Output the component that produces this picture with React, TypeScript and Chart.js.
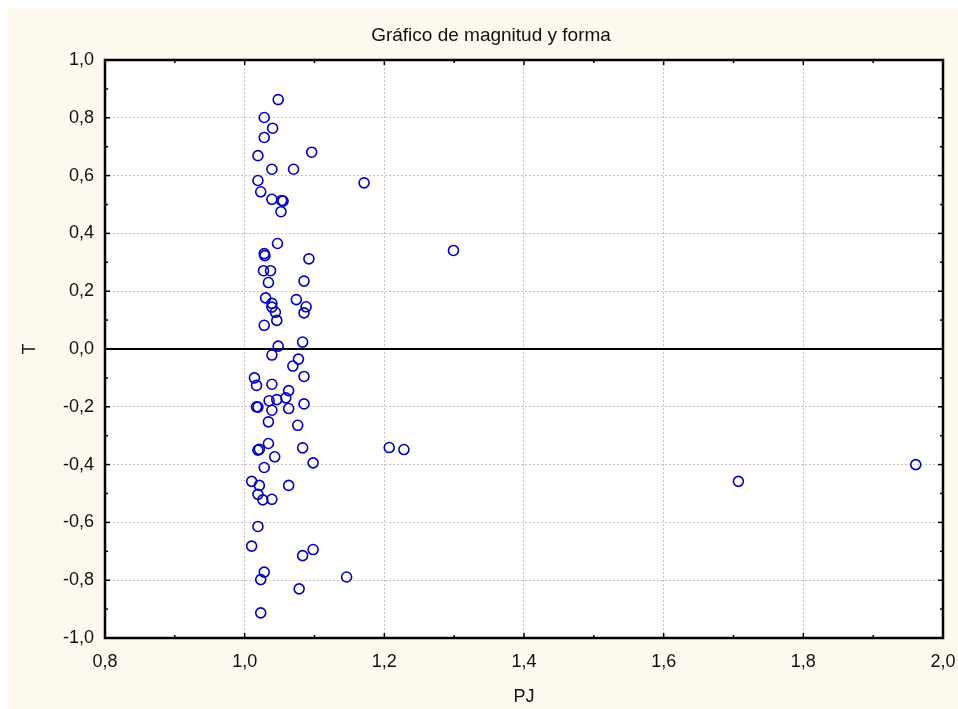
import React, { useEffect, useRef } from "react";
import { Chart, registerables } from "chart.js";

Chart.register(...registerables);

const CHART_TITLE = "Gráfico de magnitud y forma";
const X_TITLE = "PJ";
const Y_TITLE = "T";

const X_TICKS = [0.8, 1.0, 1.2, 1.4, 1.6, 1.8, 2.0];
const Y_TICKS = [-1.0, -0.8, -0.6, -0.4, -0.2, 0.0, 0.2, 0.4, 0.6, 0.8, 1.0];

const PJ = [
  1.048, 1.028, 1.040, 1.028, 1.019, 1.096, 1.039, 1.070, 1.019, 1.023,
  1.039, 1.053, 1.055, 1.052, 1.171, 1.047, 1.299, 1.028, 1.029, 1.092,
  1.027, 1.037, 1.034, 1.085, 1.030, 1.074, 1.039, 1.039, 1.088, 1.085,
  1.044, 1.046, 1.028, 1.083, 1.048, 1.039, 1.077, 1.069, 1.085, 1.014,
  1.017, 1.039, 1.063, 1.059, 1.046, 1.035, 1.017, 1.019, 1.039, 1.063,
  1.085, 1.034, 1.076, 1.034, 1.019, 1.021, 1.083, 1.043, 1.028, 1.098,
  1.207, 1.228, 1.010, 1.021, 1.063, 1.019, 1.026, 1.039, 1.019, 1.010,
  1.098, 1.083, 1.028, 1.023, 1.146, 1.078, 1.023, 1.707, 1.961,
];

const T = [
  0.863, 0.801, 0.764, 0.732, 0.669, 0.681, 0.622, 0.622, 0.583, 0.544,
  0.518, 0.514, 0.512, 0.475, 0.575, 0.365, 0.341, 0.330, 0.323, 0.312,
  0.271, 0.271, 0.230, 0.235, 0.177, 0.171, 0.158, 0.145, 0.146, 0.125,
  0.127, 0.099, 0.082, 0.024, 0.010, -0.021, -0.035, -0.059, -0.095, -0.100,
  -0.126, -0.122, -0.144, -0.169, -0.175, -0.179, -0.200, -0.201, -0.212, -0.206,
  -0.190, -0.252, -0.264, -0.327, -0.350, -0.347, -0.342, -0.373, -0.410, -0.394,
  -0.341, -0.348, -0.458, -0.472, -0.472, -0.503, -0.522, -0.520, -0.614, -0.682,
  -0.694, -0.715, -0.772, -0.798, -0.789, -0.830, -0.913, -0.458, -0.400,
];

const FONT = "'Liberation Sans', Arial, sans-serif";
const CREAM = "#fdf9ee";
const fmt = (v: number) => v.toFixed(1).replace(".", ",");

const framePlugin = {
  id: "statFrame",
  beforeDraw(chart: any) {
    const { ctx, chartArea: a, width, height } = chart;
    ctx.save();
    ctx.fillStyle = CREAM;
    ctx.fillRect(0, 0, width, height);
    ctx.fillStyle = "#ffffff";
    ctx.fillRect(a.left, a.top, a.right - a.left, a.bottom - a.top);
    ctx.restore();
  },
  beforeDatasetsDraw(chart: any) {
    const { ctx, chartArea: a, scales } = chart;
    const x = scales.x;
    const y = scales.y;
    ctx.save();
    ctx.strokeStyle = "#000";
    const y0 = y.getPixelForValue(0);
    ctx.lineWidth = 2;
    ctx.beginPath();
    ctx.moveTo(a.left, y0);
    ctx.lineTo(a.right, y0);
    ctx.stroke();
    ctx.lineWidth = 1.5;
    const seg = (x1: number, y1: number, x2: number, y2: number) => {
      ctx.beginPath();
      ctx.moveTo(x1, y1);
      ctx.lineTo(x2, y2);
      ctx.stroke();
    };
    X_TICKS.forEach((v, i) => {
      const px = x.getPixelForValue(v);
      seg(px, a.bottom, px, a.bottom - 5);
      seg(px, a.top, px, a.top + 5);
      if (i < X_TICKS.length - 1) {
        const m = x.getPixelForValue((v + X_TICKS[i + 1]) / 2);
        seg(m, a.bottom, m, a.bottom - 3);
        seg(m, a.top, m, a.top + 3);
      }
    });
    Y_TICKS.forEach((v, i) => {
      const py = y.getPixelForValue(v);
      seg(a.left, py, a.left + 5, py);
      seg(a.right, py, a.right - 5, py);
      if (i < Y_TICKS.length - 1) {
        const m = y.getPixelForValue((v + Y_TICKS[i + 1]) / 2);
        seg(a.left, m, a.left + 3, m);
        seg(a.right, m, a.right - 3, m);
      }
    });
    ctx.lineWidth = 2.5;
    ctx.strokeRect(a.left, a.top, a.right - a.left, a.bottom - a.top);
    ctx.restore();
  },
  afterDraw(chart: any) {
    const { ctx } = chart;
    ctx.save();
    ctx.fillStyle = "#111";
    ctx.font = `19px ${FONT}`;
    ctx.textAlign = "center";
    ctx.textBaseline = "middle";
    ctx.fillText(CHART_TITLE, 483, 28);
    ctx.restore();
  },
};

export default function App() {
  const ref = useRef<HTMLCanvasElement | null>(null);

  useEffect(() => {
    if (!ref.current) return;
    const data = PJ.map((p, i) => ({ x: p, y: T[i] }));
    const chart = new Chart(ref.current, {
      type: "scatter",
      data: {
        datasets: [
          {
            data,
            pointStyle: "circle",
            pointRadius: 5,
            pointBorderWidth: 1.6,
            borderColor: "#0000c0",
            backgroundColor: "rgba(0,0,0,0)",
            pointBackgroundColor: "rgba(0,0,0,0)",
            pointBorderColor: "#0000c0",
            showLine: false,
          },
        ],
      },
      options: {
        responsive: false,
        animation: false,
        layout: { padding: { top: 52, right: 15, left: 0, bottom: 0 } },
        plugins: {
          legend: { display: false },
          tooltip: { enabled: false },
          title: { display: false },
        },
        scales: {
          x: {
            type: "linear",
            min: 0.8,
            max: 2.0,
            afterBuildTicks: (s: any) => {
              s.ticks = X_TICKS.map((v) => ({ value: v }));
            },
            afterFit: (s: any) => {
              s.height = 71;
              s.paddingLeft = 0;
              s.paddingRight = 0;
            },
            ticks: {
              callback: (v: any) => fmt(Number(v)),
              font: { family: FONT, size: 18 },
              color: "#111",
              padding: 13,
              maxRotation: 0,
              autoSkip: false,
            },
            grid: { color: "#c4c4c4", lineWidth: 1, drawTicks: false },
            border: { display: false, dash: [2, 2] },
            title: {
              display: true,
              text: X_TITLE,
              font: { family: FONT, size: 18 },
              color: "#111",
              padding: { top: 0, bottom: 1 },
            },
          },
          y: {
            type: "linear",
            min: -1.0,
            max: 1.0,
            afterBuildTicks: (s: any) => {
              s.ticks = Y_TICKS.map((v) => ({ value: v }));
            },
            afterFit: (s: any) => {
              s.width = 97;
              s.paddingTop = 0;
              s.paddingBottom = 0;
            },
            ticks: {
              callback: (v: any) => fmt(Number(v)),
              font: { family: FONT, size: 18 },
              color: "#111",
              padding: 11,
              autoSkip: false,
            },
            grid: { color: "#c4c4c4", lineWidth: 1, drawTicks: false },
            border: { display: false, dash: [2, 2] },
            title: {
              display: true,
              text: Y_TITLE,
              font: { family: FONT, size: 18 },
              color: "#111",
              padding: { top: 11, bottom: 0 },
            },
          },
        },
      },
      plugins: [framePlugin],
    } as any);
    return () => chart.destroy();
  }, []);

  return (
    <div
      style={{
        position: "absolute",
        left: 8,
        top: 8,
        width: 950,
        height: 701,
        overflow: "hidden",
      }}
    >
      <canvas ref={ref} width={950} height={701} style={{ display: "block" }} />
    </div>
  );
}
